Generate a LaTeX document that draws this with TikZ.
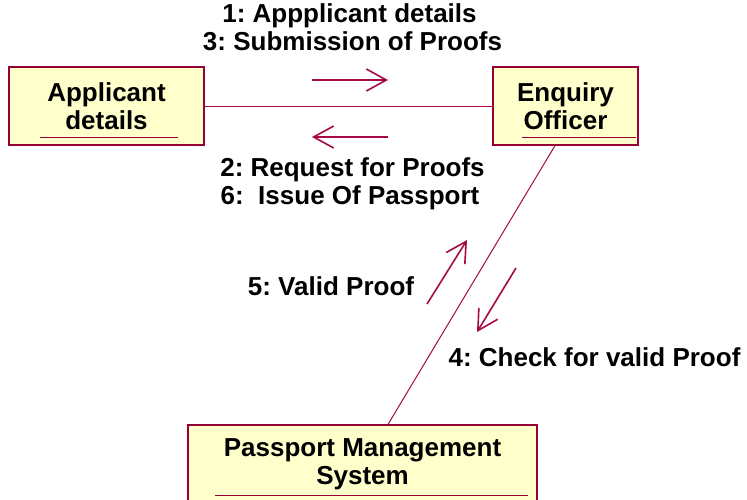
\documentclass[tikz,border=0pt]{standalone}
\usepackage{fontspec}
\setmainfont{Liberation Sans}
\usetikzlibrary{arrows.meta}
\frenchspacing
\begin{document}
\begin{tikzpicture}[x=1pt, y=-1pt, every node/.style={font=\fontsize{26}{28}\selectfont\bfseries}]
        \definecolor{boxfill}{RGB}{255,255,204}
        \definecolor{boxline}{RGB}{150,0,50}
        \definecolor{link}{RGB}{165,10,70}
        \tikzset{
          object/.style={draw=boxline, fill=boxfill, line width=1.2pt, inner sep=0pt, align=center},
          msg/.style={link, line width=1.6pt, -{Straight Barb[length=20pt, width=22pt]}},
          label/.style={anchor=base}
        }
        \clip (0,0) rectangle (747,499);
        \fill[white] (0,0) rectangle (747,499);
        \node[object, minimum width=195pt, minimum height=78pt] (app) at (106.5,106) {Applicant\\details};
        \node[object, minimum width=145pt, minimum height=78pt] (enq) at (565.5,106) {Enquiry\\Officer};
        \node[object, minimum width=349pt, minimum height=78pt] (pms) at (362.5,464) {Passport Management\\System};
        \draw[boxline, line width=1.3pt] ([shift={(32,-8)}]app.south west) -- ([shift={(-27,-8)}]app.south east);
        \draw[boxline, line width=1.3pt] ([shift={(30,-8)}]enq.south west) -- ([shift={(-3,-8)}]enq.south east);
        \draw[boxline, line width=1.3pt] ([shift={(28,-8)}]pms.south west) -- ([shift={(-10,-8)}]pms.south east);
        \draw[link, line width=1pt] (app.east) -- (enq.west);
        \draw[link, line width=1pt] ([xshift=-10.5pt]enq.south) -- ([xshift=25.5pt]pms.north);
        \coordinate (m1a) at (312,80);
        \coordinate (m1b) at (388,80);
        \coordinate (m2a) at (388,137);
        \coordinate (m2b) at (312,137);
        \coordinate (m5a) at (427,304);
        \coordinate (m5b) at (467,240);
        \coordinate (m4a) at (516,268);
        \coordinate (m4b) at (477,332);
        \draw[msg] (m1a) -- (m1b);
        \draw[msg] (m2a) -- (m2b);
        \draw[msg] (m5a) -- (m5b);
        \draw[msg] (m4a) -- (m4b);
        \node[label] (l1) at (349.5,22) {1: Appplicant details};
        \node[label] (l3) at (352.5,50) {3: Submission of Proofs};
        \node[label] (l2) at (352.5,176) {2: Request for Proofs};
        \node[label] (l6) at (350,204) {6:~ Issue Of Passport};
        \node[label] (l5) at (331,295) {5: Valid Proof};
        \node[label] (l4) at (594.5,366) {4: Check for valid Proof};
      \end{tikzpicture}
\end{document}
